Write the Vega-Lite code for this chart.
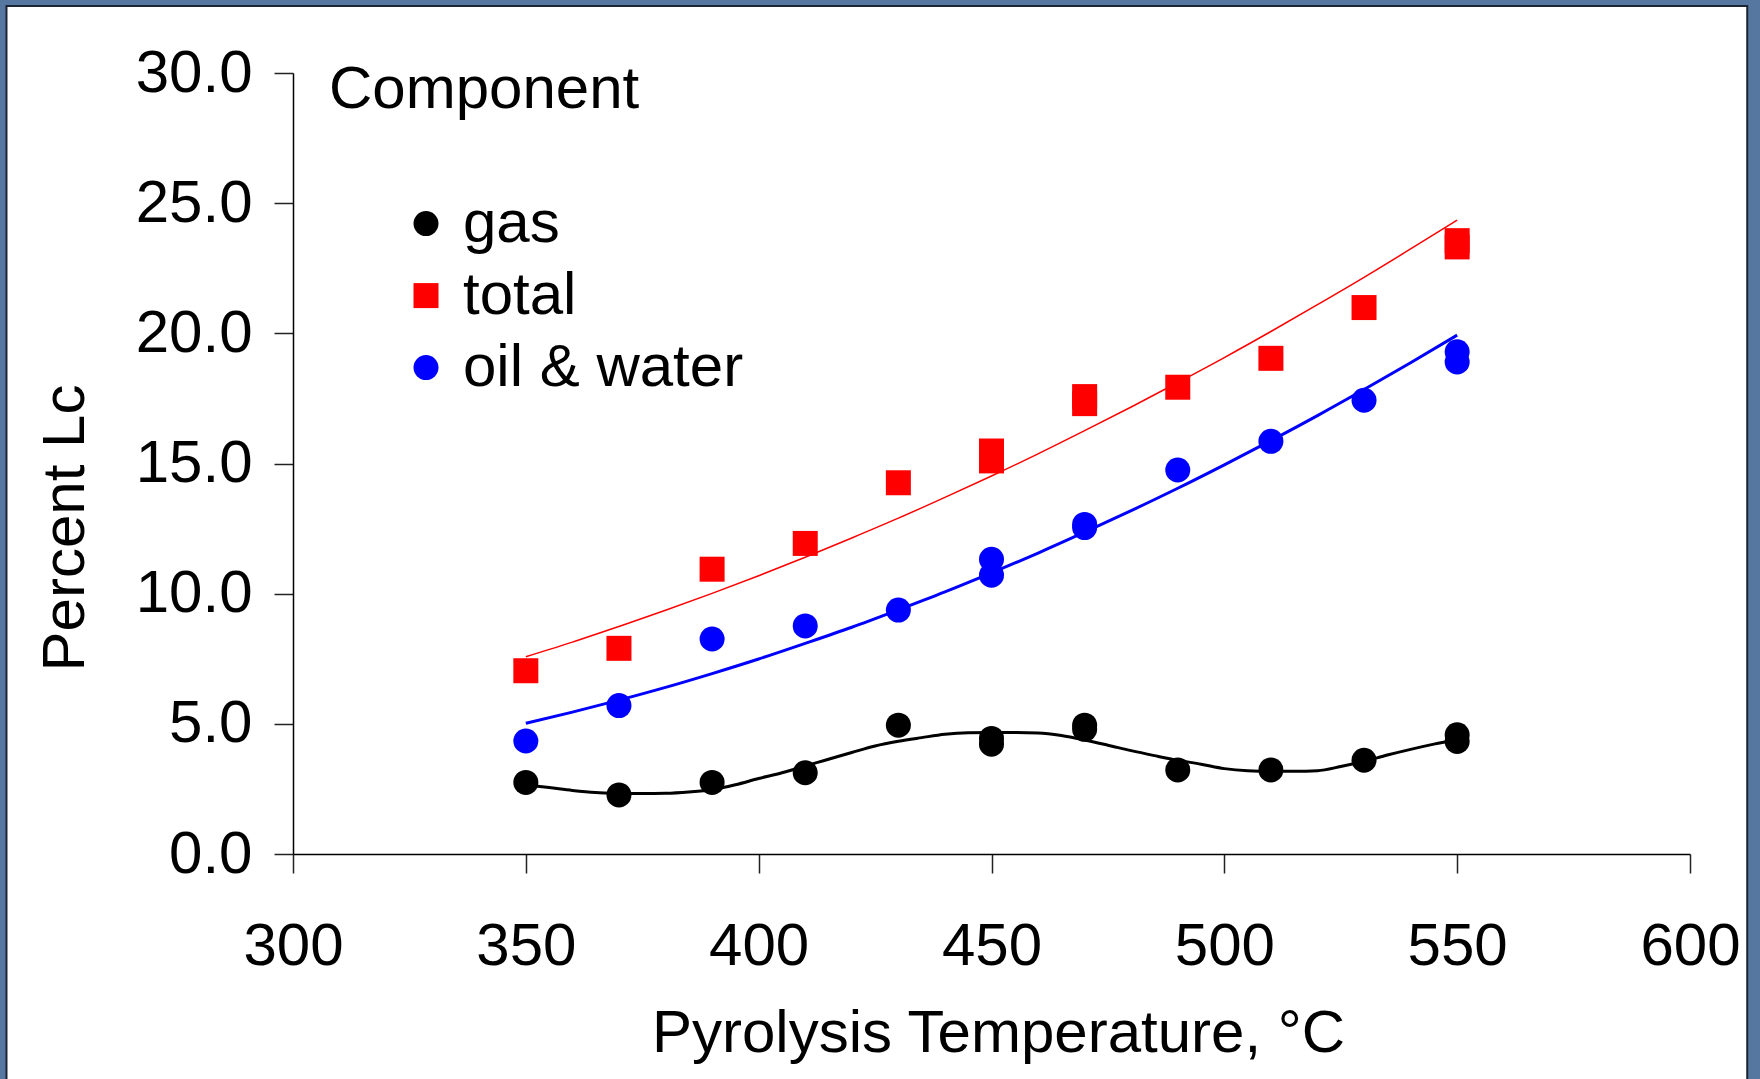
{
  "$schema": "https://vega.github.io/schema/vega-lite/v6.json",
  "width": 1397,
  "height": 781,
  "autosize": {"type": "none"},
  "padding": {"left": 293, "top": 73, "right": 70, "bottom": 225},
  "background": "#ffffff",
  "config": {
    "view": {"stroke": null},
    "font": "Liberation Sans",
    "legend": {
      "orient": "none", "legendX": 36, "legendY": -12.4, "padding": 0,
      "titleFont": "Liberation Sans", "titleFontSize": 60, "titleFontWeight": "normal", "titleColor": "#000000",
      "titlePadding": 73, "titleLimit": 1200,
      "labelFont": "Liberation Sans", "labelFontSize": 60, "labelColor": "#000000", "labelLimit": 800,
      "labelOffset": 7, "symbolOffset": 67, "symbolSize": 625, "symbolStrokeWidth": 0,
      "rowPadding": 12
    }
  },
  "datasets": {
    "strips": [
      {"T": 236, "T2": 238.47, "v": -10, "v2": 33.2},
      {"T": 236, "T2": 616, "v": 32.57, "v2": 33.2},
      {"T": 612.29, "T2": 616, "v": -10, "v2": 33.2}
    ],
    "border": [{"T": 238.47, "T2": 612.29, "v": 32.57, "v2": -9.06}],
    "points": [
      {"T": 350, "v": 2.75, "component": "gas"},
      {"T": 370, "v": 2.27, "component": "gas"},
      {"T": 390, "v": 2.75, "component": "gas"},
      {"T": 410, "v": 3.12, "component": "gas"},
      {"T": 430, "v": 4.95, "component": "gas"},
      {"T": 450, "v": 4.44, "component": "gas"},
      {"T": 450, "v": 4.22, "component": "gas"},
      {"T": 470, "v": 4.95, "component": "gas"},
      {"T": 470, "v": 4.79, "component": "gas"},
      {"T": 490, "v": 3.23, "component": "gas"},
      {"T": 510, "v": 3.23, "component": "gas"},
      {"T": 530, "v": 3.60, "component": "gas"},
      {"T": 550, "v": 4.58, "component": "gas"},
      {"T": 550, "v": 4.32, "component": "gas"},
      {"T": 350, "v": 7.04, "component": "total"},
      {"T": 370, "v": 7.90, "component": "total"},
      {"T": 390, "v": 10.94, "component": "total"},
      {"T": 410, "v": 11.93, "component": "total"},
      {"T": 430, "v": 14.26, "component": "total"},
      {"T": 450, "v": 15.48, "component": "total"},
      {"T": 450, "v": 15.10, "component": "total"},
      {"T": 470, "v": 17.57, "component": "total"},
      {"T": 470, "v": 17.30, "component": "total"},
      {"T": 490, "v": 17.93, "component": "total"},
      {"T": 510, "v": 19.04, "component": "total"},
      {"T": 530, "v": 20.99, "component": "total"},
      {"T": 550, "v": 23.56, "component": "total"},
      {"T": 550, "v": 23.32, "component": "total"},
      {"T": 350, "v": 4.34, "component": "oil & water"},
      {"T": 370, "v": 5.70, "component": "oil & water"},
      {"T": 390, "v": 8.26, "component": "oil & water"},
      {"T": 410, "v": 8.76, "component": "oil & water"},
      {"T": 430, "v": 9.37, "component": "oil & water"},
      {"T": 450, "v": 11.32, "component": "oil & water"},
      {"T": 450, "v": 10.71, "component": "oil & water"},
      {"T": 470, "v": 12.66, "component": "oil & water"},
      {"T": 470, "v": 12.54, "component": "oil & water"},
      {"T": 490, "v": 14.75, "component": "oil & water"},
      {"T": 510, "v": 15.85, "component": "oil & water"},
      {"T": 530, "v": 17.43, "component": "oil & water"},
      {"T": 550, "v": 19.29, "component": "oil & water"},
      {"T": 550, "v": 18.90, "component": "oil & water"}
    ],
    "fits": [
      {"T": 350, "v": 2.65, "component": "gas"},
      {"T": 355, "v": 2.55, "component": "gas"},
      {"T": 360, "v": 2.44, "component": "gas"},
      {"T": 365, "v": 2.36, "component": "gas"},
      {"T": 370, "v": 2.33, "component": "gas"},
      {"T": 375, "v": 2.32, "component": "gas"},
      {"T": 380, "v": 2.33, "component": "gas"},
      {"T": 385, "v": 2.38, "component": "gas"},
      {"T": 390, "v": 2.47, "component": "gas"},
      {"T": 395, "v": 2.66, "component": "gas"},
      {"T": 400, "v": 2.90, "component": "gas"},
      {"T": 405, "v": 3.12, "component": "gas"},
      {"T": 410, "v": 3.38, "component": "gas"},
      {"T": 415, "v": 3.64, "component": "gas"},
      {"T": 420, "v": 3.90, "component": "gas"},
      {"T": 425, "v": 4.15, "component": "gas"},
      {"T": 430, "v": 4.33, "component": "gas"},
      {"T": 435, "v": 4.47, "component": "gas"},
      {"T": 440, "v": 4.60, "component": "gas"},
      {"T": 445, "v": 4.66, "component": "gas"},
      {"T": 450, "v": 4.67, "component": "gas"},
      {"T": 455, "v": 4.67, "component": "gas"},
      {"T": 460, "v": 4.65, "component": "gas"},
      {"T": 465, "v": 4.55, "component": "gas"},
      {"T": 470, "v": 4.38, "component": "gas"},
      {"T": 475, "v": 4.18, "component": "gas"},
      {"T": 480, "v": 3.97, "component": "gas"},
      {"T": 485, "v": 3.78, "component": "gas"},
      {"T": 490, "v": 3.60, "component": "gas"},
      {"T": 495, "v": 3.45, "component": "gas"},
      {"T": 500, "v": 3.28, "component": "gas"},
      {"T": 505, "v": 3.20, "component": "gas"},
      {"T": 510, "v": 3.18, "component": "gas"},
      {"T": 515, "v": 3.18, "component": "gas"},
      {"T": 520, "v": 3.20, "component": "gas"},
      {"T": 525, "v": 3.36, "component": "gas"},
      {"T": 530, "v": 3.56, "component": "gas"},
      {"T": 535, "v": 3.80, "component": "gas"},
      {"T": 540, "v": 4.02, "component": "gas"},
      {"T": 545, "v": 4.22, "component": "gas"},
      {"T": 550, "v": 4.40, "component": "gas"},
      {"T": 350, "v": 7.58, "component": "total"},
      {"T": 360, "v": 8.14, "component": "total"},
      {"T": 370, "v": 8.74, "component": "total"},
      {"T": 380, "v": 9.36, "component": "total"},
      {"T": 390, "v": 10.01, "component": "total"},
      {"T": 400, "v": 10.69, "component": "total"},
      {"T": 410, "v": 11.40, "component": "total"},
      {"T": 420, "v": 12.14, "component": "total"},
      {"T": 430, "v": 12.90, "component": "total"},
      {"T": 440, "v": 13.70, "component": "total"},
      {"T": 450, "v": 14.52, "component": "total"},
      {"T": 460, "v": 15.37, "component": "total"},
      {"T": 470, "v": 16.26, "component": "total"},
      {"T": 480, "v": 17.17, "component": "total"},
      {"T": 490, "v": 18.11, "component": "total"},
      {"T": 500, "v": 19.07, "component": "total"},
      {"T": 510, "v": 20.07, "component": "total"},
      {"T": 520, "v": 21.10, "component": "total"},
      {"T": 530, "v": 22.15, "component": "total"},
      {"T": 540, "v": 23.24, "component": "total"},
      {"T": 550, "v": 24.35, "component": "total"},
      {"T": 350, "v": 5.02, "component": "oil & water"},
      {"T": 360, "v": 5.45, "component": "oil & water"},
      {"T": 370, "v": 5.91, "component": "oil & water"},
      {"T": 380, "v": 6.40, "component": "oil & water"},
      {"T": 390, "v": 6.93, "component": "oil & water"},
      {"T": 400, "v": 7.49, "component": "oil & water"},
      {"T": 410, "v": 8.09, "component": "oil & water"},
      {"T": 420, "v": 8.71, "component": "oil & water"},
      {"T": 430, "v": 9.38, "component": "oil & water"},
      {"T": 440, "v": 10.07, "component": "oil & water"},
      {"T": 450, "v": 10.80, "component": "oil & water"},
      {"T": 460, "v": 11.56, "component": "oil & water"},
      {"T": 470, "v": 12.36, "component": "oil & water"},
      {"T": 480, "v": 13.19, "component": "oil & water"},
      {"T": 490, "v": 14.05, "component": "oil & water"},
      {"T": 500, "v": 14.95, "component": "oil & water"},
      {"T": 510, "v": 15.88, "component": "oil & water"},
      {"T": 520, "v": 16.84, "component": "oil & water"},
      {"T": 530, "v": 17.84, "component": "oil & water"},
      {"T": 540, "v": 18.87, "component": "oil & water"},
      {"T": 550, "v": 19.93, "component": "oil & water"}
    ]
  },
  "layer": [
    {
      "data": {"name": "strips"},
      "mark": {"type": "rect", "fill": "#56779f", "clip": false},
      "encoding": {
        "x": {
          "field": "T", "type": "quantitative",
          "scale": {"domain": [300, 600], "nice": false, "zero": false},
          "axis": {
            "title": "Pyrolysis Temperature, °C",
            "values": [300, 350, 400, 450, 500, 550, 600],
            "format": "d",
            "grid": false,
            "domainColor": "#000000", "domainWidth": 1.5,
            "tickColor": "#222222", "tickWidth": 1.5, "tickSize": 19,
            "labelFont": "Liberation Sans", "labelFontSize": 60, "labelColor": "#000000",
            "labelPadding": 44, "labelFlush": false, "labelOverlap": false,
            "titleFont": "Liberation Sans", "titleFontSize": 60, "titleFontWeight": "normal", "titleColor": "#000000",
            "titleX": 705, "titleY": 179.5, "titleAlign": "center", "titleBaseline": "middle",
            "zindex": 1
          }
        },
        "x2": {"field": "T2"},
        "y": {
          "field": "v", "type": "quantitative",
          "scale": {"domain": [0, 30], "nice": false, "zero": false},
          "axis": {
            "title": "Percent Lc",
            "values": [0, 5, 10, 15, 20, 25, 30],
            "format": ".1f",
            "grid": false,
            "domainColor": "#000000", "domainWidth": 1.5,
            "tickColor": "#222222", "tickWidth": 1.5, "tickSize": 19,
            "labelFont": "Liberation Sans", "labelFontSize": 60, "labelColor": "#000000",
            "labelPadding": 22, "labelBaseline": "middle", "labelFlush": false, "labelOverlap": false,
            "titleFont": "Liberation Sans", "titleFontSize": 60, "titleFontWeight": "normal", "titleColor": "#000000",
            "titleAngle": 270, "titleX": -228, "titleY": 454.5, "titleAlign": "center", "titleBaseline": "middle",
            "zindex": 1
          }
        },
        "y2": {"field": "v2"}
      }
    },
    {
      "data": {"name": "border"},
      "mark": {"type": "rect", "fill": null, "stroke": "#1b2533", "strokeWidth": 2, "clip": false},
      "encoding": {
        "x": {"field": "T", "type": "quantitative", "scale": {"domain": [300, 600], "nice": false, "zero": false}},
        "x2": {"field": "T2"},
        "y": {"field": "v", "type": "quantitative", "scale": {"domain": [0, 30], "nice": false, "zero": false}},
        "y2": {"field": "v2"}
      }
    },
    {
      "data": {"name": "fits"},
      "mark": {"type": "line", "interpolate": "monotone"},
      "encoding": {
        "x": {"field": "T", "type": "quantitative", "scale": {"domain": [300, 600], "nice": false, "zero": false}},
        "y": {"field": "v", "type": "quantitative", "scale": {"domain": [0, 30], "nice": false, "zero": false}},
        "detail": {"field": "component"},
        "stroke": {
          "condition": [
            {"test": "datum.component === 'total'", "value": "#ff0000"},
            {"test": "datum.component === 'oil & water'", "value": "#0000ff"}
          ],
          "value": "#000000"
        },
        "strokeWidth": {
          "condition": {"test": "datum.component === 'total'", "value": 1.5},
          "value": 3
        }
      }
    },
    {
      "data": {"name": "points"},
      "mark": {"type": "point", "filled": true, "opacity": 1, "size": 625, "strokeWidth": 0},
      "encoding": {
        "x": {"field": "T", "type": "quantitative", "scale": {"domain": [300, 600], "nice": false, "zero": false}},
        "y": {"field": "v", "type": "quantitative", "scale": {"domain": [0, 30], "nice": false, "zero": false}},
        "color": {
          "field": "component", "type": "nominal",
          "scale": {"domain": ["gas", "total", "oil & water"], "range": ["#000000", "#ff0000", "#0000ff"]},
          "legend": {"title": "Component"}
        },
        "shape": {
          "field": "component", "type": "nominal",
          "scale": {"domain": ["gas", "total", "oil & water"], "range": ["circle", "square", "circle"]},
          "legend": {"title": "Component"}
        }
      }
    }
  ]
}
